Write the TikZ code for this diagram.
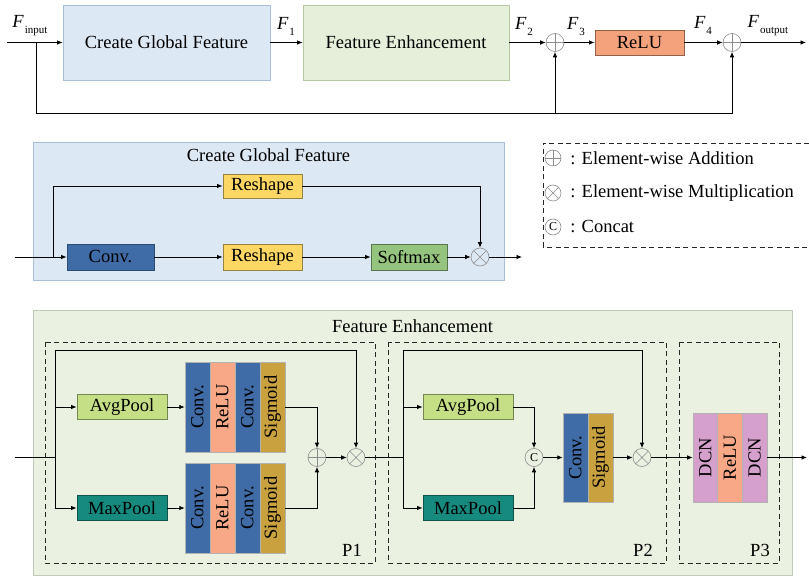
\documentclass[tikz,border=0pt]{standalone}
\usepackage{fontspec}
\setmainfont{Liberation Serif}
\usepackage{graphicx}
\usetikzlibrary{arrows.meta,calc}
\definecolor{cgfbg}{HTML}{DDE8F5}
\definecolor{cgfbd}{HTML}{A9BED8}
\definecolor{febg}{HTML}{E5EFDA}
\definecolor{febd}{HTML}{B5C8A4}
\definecolor{fe2bg}{HTML}{EBF1E1}
\definecolor{fe2bd}{HTML}{BFCBB4}
\definecolor{relutop}{HTML}{F4A27C}
\definecolor{convblue}{HTML}{3F6CA6}
\definecolor{salmon}{HTML}{F8A886}
\definecolor{sigm}{HTML}{C9A23F}
\definecolor{avgp}{HTML}{C4DF85}
\definecolor{maxp}{HTML}{178A7E}
\definecolor{dcn}{HTML}{D6A0CC}
\definecolor{reshape}{HTML}{FDD764}
\definecolor{softmax}{HTML}{94C47E}
\newcommand{\Flab}[1]{\textit{F}\kern1pt\raisebox{-6pt}{\fontsize{11}{12}\selectfont #1}}
\newcommand{\rot}[1]{\rotatebox{90}{#1}}
\begin{document}
\begin{tikzpicture}[x=1pt,y=-1pt, font=\fontsize{18.5}{21}\selectfont, line width=0.8pt,
  >={Latex[length=5.5pt,width=4.5pt]},
  blk/.style={draw, inner sep=0, align=center},
  col/.style={draw=gray!60, line width=0.5pt, minimum width=25, minimum height=90, inner sep=0},
  opc/.style={circle, draw=gray!90, line width=0.6pt, minimum size=18, inner sep=0},
  oplus/.style={opc, path picture={\draw[gray!90,line width=0.6pt] (path picture bounding box.north) -- (path picture bounding box.south) (path picture bounding box.west) -- (path picture bounding box.east);}},
  otimes/.style={opc, path picture={\draw[gray!90,line width=0.6pt] (path picture bounding box.north west) -- (path picture bounding box.south east) (path picture bounding box.north east) -- (path picture bounding box.south west);}},
  ocat/.style={opc, font=\fontsize{12}{12}\selectfont},
  pbox/.style={draw=gray!30!black, dash pattern=on 5pt off 3.5pt, line width=0.7pt},
  ]
\useasboundingbox (0,0) rectangle (809,577);
\fill[white] (0,0) rectangle (809,577);

% ---------------- top row ----------------
\node[blk, draw=cgfbd, fill=cgfbg, minimum width=207, minimum height=75] (cgf) at (166.5,42.5) {Create Global Feature};
\node[blk, draw=febd, fill=febg, minimum width=206, minimum height=75] (fe) at (406,42.5) {Feature Enhancement};
\node[oplus] (a1) at (555,42.5) {};
\node[blk, draw=relutop!60!black, fill=relutop, minimum width=89, minimum height=25] (relu) at (639.5,42.5) {ReLU};
\node[oplus] (a2) at (732,42.5) {};
\coordinate (tin) at (7,42.5);
\coordinate (tbr) at (36,42.5);
\coordinate (tbl) at (36,113);
\coordinate (tout) at (806,42.5);
\draw (tin) -- (tbr);
\draw[->] (tbr) -- (cgf);
\draw[->] (cgf) -- (fe);
\draw[->] (fe) -- (a1);
\draw[->] (a1) -- (relu);
\draw[->] (relu) -- (a2);
\draw[->] (a2) -- (tout);
\draw (tbr) -- (tbl);
\draw[->] (tbl) -| (a1.south);
\draw[->] (tbl) -| (a2.south);
\node (lin) at (30,26) {\Flab{input}};
\node (lf1) at (286,26) {\Flab{1}};
\node (lf2) at (524,26) {\Flab{2}};
\node (lf3) at (576,27) {\Flab{3}};
\node (lf4) at (703,25) {\Flab{4}};
\node (lout) at (768,26) {\Flab{output}};

% ---------------- middle ----------------
\node[blk, draw=cgfbd, fill=cgfbg, minimum width=471, minimum height=138] (cgf2) at (268.5,211) {};
\node (cgft) at (268.5,155) {Create Global Feature};
\node[blk, draw=convblue!70!black, fill=convblue, minimum width=87, minimum height=26] (conv) at (110.5,257) {Conv.};
\node[blk, draw=reshape!60!black, fill=reshape, minimum width=79, minimum height=24] (rs1) at (262.5,186) {Reshape};
\node[blk, draw=reshape!60!black, fill=reshape, minimum width=79, minimum height=26] (rs2) at (262.5,257) {Reshape};
\node[blk, draw=softmax!60!black, fill=softmax, minimum width=76, minimum height=26] (sm) at (409,257) {Softmax};
\node[otimes] (mm) at (480,257) {};
\coordinate (min) at (15,257);
\coordinate (mbr) at (53,257);
\coordinate (mout) at (522,257);
\draw (min) -- (mbr);
\draw[->] (mbr) -- (conv);
\draw[->] (mbr) |- (rs1);
\draw[->] (conv) -- (rs2);
\draw[->] (rs2) -- (sm);
\draw[->] (sm) -- (mm);
\draw[->] (rs1) -| (mm.north);
\draw[->] (mm) -- (mout);

% ---------------- legend ----------------
\draw[pbox] (809,143) -- (543,143) -- (543,247) -- (809,247);
\node[oplus, minimum size=16] (la) at (553,158) {};
\node[otimes, minimum size=16] (lm) at (553,193) {};
\node[ocat, minimum size=16] (lc) at (553,227) {C};
\node[anchor=west, inner sep=0] (lta) at (570,158) {: Element-wise Addition};
\node[anchor=west, inner sep=0] (ltm) at (570,193) {: Element-wise Multiplication};
\node[anchor=west, inner sep=0] (ltc) at (570,227) {: Concat};

% ---------------- bottom ----------------
\node[blk, draw=fe2bd, fill=fe2bg, minimum width=759, minimum height=265] (fe2) at (412.5,442.5) {};
\node (fet) at (412.5,326) {Feature Enhancement};
\draw[pbox] (45,342) rectangle (375,563);
\draw[pbox] (388,342) rectangle (666,563);
\draw[pbox] (679,342) rectangle (779,563);
\node (p1) at (352,550) {P1};
\node (p2) at (643,550) {P2};
\node (p3) at (760,550) {P3};

% P1
\coordinate (bin) at (15,457.5);
\coordinate (b1) at (55,457.5);
\coordinate (b1t) at (55,350);
\node[blk, draw=avgp!60!black, fill=avgp, minimum width=90, minimum height=25] (avg1) at (122,407) {AvgPool};
\node[blk, draw=maxp!60!black, fill=maxp, minimum width=90, minimum height=25] (max1) at (122,508) {MaxPool};
\node[col, fill=convblue] (u1) at (197.5,407) {\rot{Conv.}};
\node[col, fill=salmon] (u2) at (222.5,407) {\rot{ReLU}};
\node[col, fill=convblue] (u3) at (247.5,407) {\rot{Conv.}};
\node[col, fill=sigm] (u4) at (272.5,407) {\rot{Sigmoid}};
\node[col, fill=convblue] (v1) at (197.5,508) {\rot{Conv.}};
\node[col, fill=salmon] (v2) at (222.5,508) {\rot{ReLU}};
\node[col, fill=convblue] (v3) at (247.5,508) {\rot{Conv.}};
\node[col, fill=sigm] (v4) at (272.5,508) {\rot{Sigmoid}};
\node[oplus] (ad1) at (317,457.5) {};
\node[otimes] (mu1) at (356,457.5) {};
\draw (bin) -- (b1);
\draw[->] (b1t) |- (avg1.west);
\draw[->] (b1t) |- (max1.west);
\draw[->] (b1t) -| (mu1.north);
\draw[->] (avg1) -- (u1);
\draw[->] (max1) -- (v1);
\draw[->] (u4.east) -| (ad1.north);
\draw[->] (v4.east) -| (ad1.south);
\draw[->] (ad1) -- (mu1);

% P2
\coordinate (b2) at (403,457.5);
\coordinate (b2t) at (403,350);
\draw (mu1) -- (b2);
\node[blk, draw=avgp!60!black, fill=avgp, minimum width=90, minimum height=25] (avg2) at (468,407) {AvgPool};
\node[blk, draw=maxp!60!black, fill=maxp, minimum width=90, minimum height=25] (max2) at (468,508) {MaxPool};
\node[ocat] (cat) at (534,457.5) {C};
\node[col, fill=convblue, minimum height=89] (w1) at (575.5,457.5) {\rot{Conv.}};
\node[col, fill=sigm, minimum height=89] (w2) at (600.5,457.5) {\rot{Sigmoid}};
\node[otimes] (mu2) at (642,457.5) {};
\draw[->] (b2t) |- (avg2.west);
\draw[->] (b2t) |- (max2.west);
\draw[->] (b2t) -| (mu2.north);
\draw[->] (avg2.east) -| (cat.north);
\draw[->] (max2.east) -| (cat.south);
\draw[->] (cat) -- (w1);
\draw[->] (w2) -- (mu2);

% P3
\node[col, fill=dcn, minimum width=24.7, minimum height=89] (d1) at (705.3,457.5) {\rot{DCN}};
\node[col, fill=salmon, minimum width=24.7, minimum height=89] (d2) at (730,457.5) {\rot{ReLU}};
\node[col, fill=dcn, minimum width=24.7, minimum height=89] (d3) at (754.7,457.5) {\rot{DCN}};
\coordinate (fout) at (807,457.5);
\draw[->] (mu2) -- (d1);
\draw[->] (d3) -- (fout);
\end{tikzpicture}
\end{document}
